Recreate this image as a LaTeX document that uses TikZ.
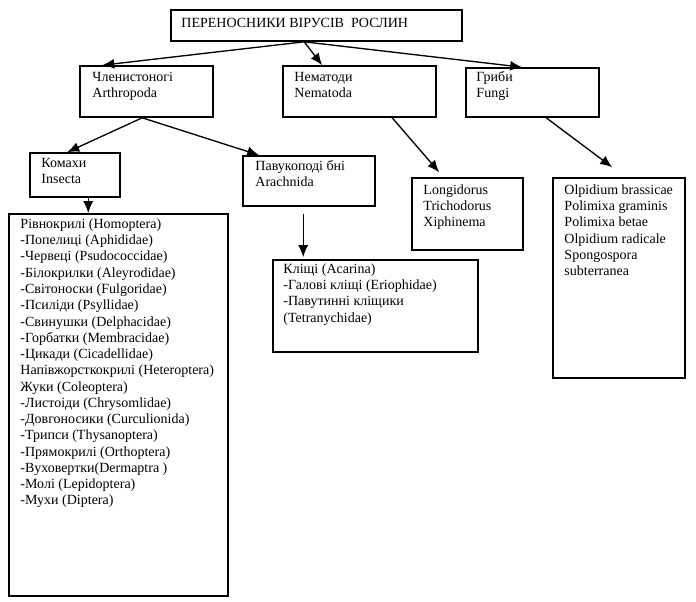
\documentclass[tikz,border=0pt]{standalone}
\usepackage{fontspec}
\setmainfont{Liberation Serif}
\usetikzlibrary{arrows.meta,calc,fit}
\tikzset{
  box/.style={draw, line width=1.2pt, inner sep=0pt, fill=none},
  txt/.style={inner sep=0pt, align=left, anchor=north west, font=\fontsize{10.5}{12.2}\selectfont},
  arr/.style={line width=1pt, -{Latex[length=9pt,width=7.5pt]}},
}
\begin{document}
\begin{tikzpicture}[x=0.75pt, y=-0.75pt]
\useasboundingbox (0,0) rectangle (696,601);
% boxes
\node[box, fit={(171,10)(462,41)}] (top) {};
\node[box, fit={(80,66)(213,117)}] (arth) {};
\node[box, fit={(283,66)(436,117)}] (nem) {};
\node[box, fit={(466,68)(599,117)}] (fun) {};
\node[box, fit={(30,153)(120,197)}] (ins) {};
\node[box, fit={(243,156)(375,206)}] (arach) {};
\node[box, fit={(9,214)(228,596)}] (list) {};
\node[box, fit={(273,260)(478,352)}] (ticks) {};
\node[box, fit={(412,178)(523,250)}] (nemg) {};
\node[box, fit={(553,178)(685,378)}] (fsp) {};
% texts
\node[txt] (top-t) at ($(top.north west)+(11,6.6)$) {\strut ПЕРЕНОСНИКИ ВІРУСІВ\ \ РОСЛИН};
\node[txt] (arth-t) at ($(arth.north west)+(13,4.6)$) {\strut Членистоногі\\Arthropoda};
\node[txt] (nem-t) at ($(nem.north west)+(12,4.6)$) {\strut Нематоди\\Nematoda};
\node[txt] (fun-t) at ($(fun.north west)+(11,2.6)$) {\strut Гриби\\Fungi};
\node[txt] (ins-t) at ($(ins.north west)+(12,3.6)$) {\strut Комахи\\Insecta};
\node[txt] (arach-t) at ($(arach.north west)+(13,3.6)$) {\strut Павукоподі бні\\Arachnida};
\node[txt] (list-t) at ($(list.north west)+(12,3.6)$) {\strut Рівнокрилі (Homoptera)\\
-Попелиці (Aphididae)\\
-Червеці (Psudococcidae)\\
-Білокрилки (Aleyrodidae)\\
-Світоноски (Fulgoridae)\\
-Псиліди (Psyllidae)\\
-Свинушки (Delphacidae)\\
-Горбатки (Membracidae)\\
-Цикади (Cicadellidae)\\
Напівжорсткокрилі (Heteroptera)\\
Жуки (Coleoptera)\\
-Листоіди (Chrysomlidae)\\
-Довгоносики (Curculionida)\\
-Трипси (Thysanoptera)\\
-Прямокрилі (Orthoptera)\\
-Вуховертки(Dermaptra )\\
-Молі (Lepidoptera)\\
-Мухи (Diptera)};
\node[txt] (ticks-t) at ($(ticks.north west)+(11,2.6)$) {\strut Кліщі (Acarina)\\-Галові кліщі (Eriophidae)\\-Павутинні кліщики\\(Tetranychidae)};
\node[txt] (nemg-t) at ($(nemg.north west)+(12,5.6)$) {\strut Longidorus\\Trichodorus\\Xiphinema};
\node[txt] (fsp-t) at ($(fsp.north west)+(12,5.6)$) {\strut Olpidium brassicae\\Polimixa graminis\\Polimixa betae\\Olpidium radicale\\Spongospora\\subterranea};
% connectors
\coordinate (topo) at ($(top.south west)+(134,0)$);
\draw[arr] (topo) -- ($(arth.north west)+(23,0)$);
\draw[arr] (topo) -- ($(nem.north west)+(40,0)$);
\draw[arr] (topo) -- ($(fun.north west)+(57,0)$);
\coordinate (artho) at ($(arth.south west)+(63,0)$);
\draw[arr] (artho) -- ($(ins.north west)+(38,0)$);
\draw[arr] (artho) -- ($(arach.north west)+(17,0)$);
\coordinate (inso) at ($(ins.south west)+(59,0)$);
\draw[arr] (inso) -- (inso |- list.north);
\coordinate (aro) at ($(arach.south west)+(61,7)$);
\coordinate (tickin) at ($(ticks.north west)+(31,-2)$);
\draw[arr] (aro) -- (tickin);
\draw[arr] ($(nem.south west)+(110,0)$) -- ($(nemg.north west)+(28,-5)$);
\draw[arr] ($(fun.south west)+(81,0)$) -- ($(fsp.north west)+(60,-10)$);
\end{tikzpicture}
\end{document}
